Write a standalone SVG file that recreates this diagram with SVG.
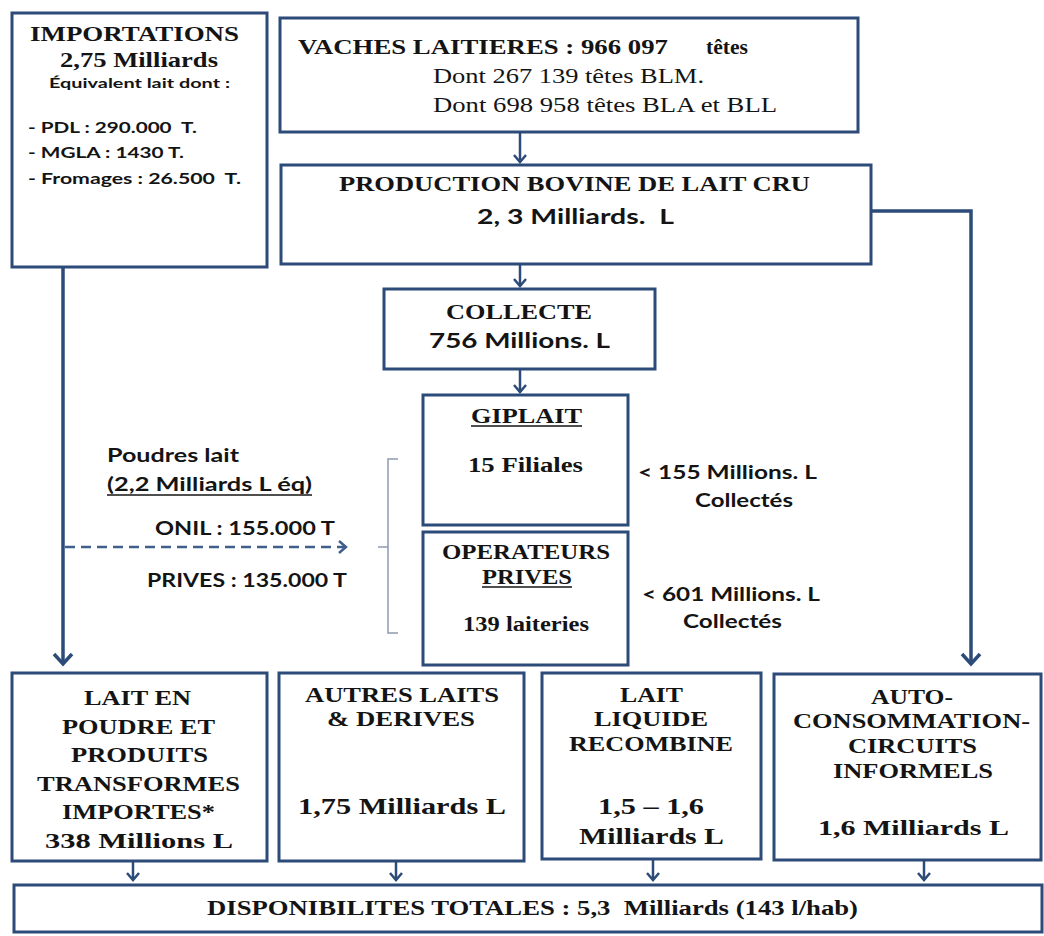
<svg xmlns="http://www.w3.org/2000/svg" width="1044" height="936" viewBox="0 0 1044 936" xml:space="preserve">
<defs>
<style>
.box{fill:#fff;stroke:#2d4b78;stroke-width:3}
.sb{font-family:"Liberation Serif","Times New Roman",serif;font-weight:bold;fill:#141414;white-space:pre}
.sr{font-family:"Liberation Serif","Times New Roman",serif;fill:#141414;white-space:pre}
.ss{font-family:Lato,"Liberation Sans",sans-serif;font-weight:bold;fill:#141414;white-space:pre}
.conn{stroke:#2d4b78;stroke-width:2.5;fill:none}
.big{stroke:#2d4b78;stroke-width:3.5;fill:none}
.dash{stroke:#3f5f8c;stroke-width:2.5;fill:none;stroke-dasharray:10 6}
.brk{stroke:#8d9bb0;stroke-width:1.5;fill:none}
.ul{stroke:#141414;stroke-width:1.5}
</style>
<marker id="a" markerUnits="userSpaceOnUse" markerWidth="12" markerHeight="14" refX="8" refY="7" orient="auto" overflow="visible">
<path d="M1,1 L8,7 L1,13" fill="none" stroke="#2d4b78" stroke-width="2.5"/>
</marker>
<marker id="ab" markerUnits="userSpaceOnUse" markerWidth="16" markerHeight="20" refX="11" refY="10" orient="auto" overflow="visible">
<path d="M1,1 L11,10 L1,19" fill="none" stroke="#2d4b78" stroke-width="3.5"/>
</marker>
<marker id="ad" markerUnits="userSpaceOnUse" markerWidth="12" markerHeight="14" refX="8" refY="7" orient="auto" overflow="visible">
<path d="M1,1 L8,7 L1,13" fill="none" stroke="#3f5f8c" stroke-width="2.5"/>
</marker>
</defs>
<rect width="1044" height="936" fill="#fff"/>

<g id="connectors">
<line class="conn" x1="520" y1="132" x2="520" y2="162" marker-end="url(#a)"/>
<line class="conn" x1="520" y1="264" x2="520" y2="286" marker-end="url(#a)"/>
<line class="conn" x1="520" y1="369" x2="520" y2="392" marker-end="url(#a)"/>
<line class="big" x1="63" y1="267" x2="63" y2="664" marker-end="url(#ab)"/>
<polyline class="big" points="871,211 971,211 971,664" marker-end="url(#ab)"/>
<line class="dash" x1="65" y1="547" x2="346" y2="547" marker-end="url(#ad)"/>
<path class="brk" d="M398,459 L388,459 L388,633 L398,633 M388,547 L378,547"/>
<line class="conn" x1="133" y1="861" x2="133" y2="880" marker-end="url(#a)"/>
<line class="conn" x1="396" y1="861" x2="396" y2="880" marker-end="url(#a)"/>
<line class="conn" x1="653" y1="859" x2="653" y2="880" marker-end="url(#a)"/>
<line class="conn" x1="924" y1="860" x2="924" y2="880" marker-end="url(#a)"/>
</g>

<g id="importations">
<rect class="box" x="12" y="13" width="255" height="254"/>
<text class="sb" x="30" y="41" font-size="21" textLength="209" lengthAdjust="spacingAndGlyphs">IMPORTATIONS</text>
<text class="sb" x="60" y="67" font-size="21" textLength="158" lengthAdjust="spacingAndGlyphs">2,75 Milliards</text>
<text class="ss" x="49" y="88" font-size="13" textLength="181" lengthAdjust="spacingAndGlyphs">Équivalent lait dont :</text>
<text class="ss" x="28" y="133" font-size="15" textLength="169" lengthAdjust="spacingAndGlyphs">- PDL : 290.000  T.</text>
<text class="ss" x="28" y="158" font-size="15" textLength="156" lengthAdjust="spacingAndGlyphs">- MGLA : 1430 T.</text>
<text class="ss" x="28" y="184" font-size="15" textLength="213" lengthAdjust="spacingAndGlyphs">- Fromages : 26.500  T.</text>
</g>

<g id="vaches">
<rect class="box" x="280" y="18" width="578" height="114"/>
<text class="sb" x="298" y="54" font-size="22" textLength="370" lengthAdjust="spacingAndGlyphs">VACHES LAITIERES : 966 097</text>
<text class="sb" x="706" y="54" font-size="22" textLength="42" lengthAdjust="spacingAndGlyphs">têtes</text>
<text class="sr" x="433" y="83" font-size="22" textLength="271" lengthAdjust="spacingAndGlyphs">Dont 267 139 têtes BLM.</text>
<text class="sr" x="433" y="112" font-size="22" textLength="344" lengthAdjust="spacingAndGlyphs">Dont 698 958 têtes BLA et BLL</text>
</g>

<g id="production">
<rect class="box" x="281" y="165" width="590" height="99"/>
<text class="sb" x="339" y="191" font-size="21.5" textLength="471" lengthAdjust="spacingAndGlyphs">PRODUCTION BOVINE DE LAIT CRU</text>
<text class="ss" x="477" y="224" font-size="21" textLength="197" lengthAdjust="spacingAndGlyphs">2, 3 Milliards.  L</text>
</g>

<g id="collecte">
<rect class="box" x="384" y="289" width="271" height="80"/>
<text class="sb" x="446" y="319" font-size="21.5" textLength="146" lengthAdjust="spacingAndGlyphs">COLLECTE</text>
<text class="ss" x="429" y="348" font-size="21" textLength="181" lengthAdjust="spacingAndGlyphs">756 Millions. L</text>
</g>

<g id="giplait">
<rect class="box" x="423" y="395" width="205" height="130"/>
<text class="sb" x="471" y="423" font-size="20.5" textLength="111" lengthAdjust="spacingAndGlyphs">GIPLAIT</text>
<line class="ul" x1="471" y1="426" x2="582" y2="426"/>
<text class="sb" x="468" y="472" font-size="20.5" textLength="115" lengthAdjust="spacingAndGlyphs">15 Filiales</text>
</g>

<g id="operateurs">
<rect class="box" x="423" y="532" width="205" height="133"/>
<text class="sb" x="442" y="559" font-size="20.5" textLength="168" lengthAdjust="spacingAndGlyphs">OPERATEURS</text>
<text class="sb" x="482" y="584" font-size="20.5" textLength="90" lengthAdjust="spacingAndGlyphs">PRIVES</text>
<line class="ul" x1="482" y1="587" x2="572" y2="587"/>
<text class="sb" x="463" y="631" font-size="20.5" textLength="126" lengthAdjust="spacingAndGlyphs">139 laiteries</text>
</g>

<g id="poudres">
<text class="ss" x="107" y="462" font-size="18" textLength="132" lengthAdjust="spacingAndGlyphs">Poudres lait</text>
<text class="ss" x="107" y="491" font-size="18" textLength="205" lengthAdjust="spacingAndGlyphs">(2,2 Milliards L éq)</text>
<line class="ul" x1="107" y1="495" x2="312" y2="495"/>
<text class="ss" x="155" y="535" font-size="18" textLength="180" lengthAdjust="spacingAndGlyphs">ONIL : 155.000 T</text>
<text class="ss" x="147" y="587" font-size="18" textLength="200" lengthAdjust="spacingAndGlyphs">PRIVES : 135.000 T</text>
</g>

<g id="collectes-labels">
<text class="ss" x="638" y="479" font-size="18" textLength="179" lengthAdjust="spacingAndGlyphs">&lt; 155 Millions. L</text>
<text class="ss" x="695" y="507" font-size="18" textLength="98" lengthAdjust="spacingAndGlyphs">Collectés</text>
<text class="ss" x="642" y="601" font-size="18" textLength="178" lengthAdjust="spacingAndGlyphs">&lt; 601 Millions. L</text>
<text class="ss" x="683" y="628" font-size="18" textLength="99" lengthAdjust="spacingAndGlyphs">Collectés</text>
</g>

<g id="lait-poudre">
<rect class="box" x="12" y="673" width="255" height="188"/>
<text class="sb" x="84" y="705" font-size="21.5" textLength="107" lengthAdjust="spacingAndGlyphs">LAIT EN</text>
<text class="sb" x="62" y="734" font-size="21.5" textLength="153" lengthAdjust="spacingAndGlyphs">POUDRE ET</text>
<text class="sb" x="71" y="762" font-size="21.5" textLength="137" lengthAdjust="spacingAndGlyphs">PRODUITS</text>
<text class="sb" x="37" y="791" font-size="21.5" textLength="203" lengthAdjust="spacingAndGlyphs">TRANSFORMES</text>
<text class="sb" x="62" y="819" font-size="21.5" textLength="153" lengthAdjust="spacingAndGlyphs">IMPORTES*</text>
<text class="sb" x="45" y="848" font-size="21.5" textLength="188" lengthAdjust="spacingAndGlyphs">338 Millions L</text>
</g>

<g id="autres-laits">
<rect class="box" x="279" y="673" width="245" height="188"/>
<text class="sb" x="305" y="702" font-size="20.5" textLength="194" lengthAdjust="spacingAndGlyphs">AUTRES LAITS</text>
<text class="sb" x="327" y="726" font-size="20.5" textLength="148" lengthAdjust="spacingAndGlyphs">&amp; DERIVES</text>
<text class="sb" x="298" y="814" font-size="22.5" textLength="208" lengthAdjust="spacingAndGlyphs">1,75 Milliards L</text>
</g>

<g id="lait-liquide">
<rect class="box" x="542" y="673" width="219" height="186"/>
<text class="sb" x="620" y="702" font-size="20.5" textLength="63" lengthAdjust="spacingAndGlyphs">LAIT</text>
<text class="sb" x="594" y="726" font-size="20.5" textLength="114" lengthAdjust="spacingAndGlyphs">LIQUIDE</text>
<text class="sb" x="569" y="751" font-size="20.5" textLength="164" lengthAdjust="spacingAndGlyphs">RECOMBINE</text>
<text class="sb" x="598" y="814" font-size="22.5" textLength="106" lengthAdjust="spacingAndGlyphs">1,5 – 1,6</text>
<text class="sb" x="579" y="844" font-size="22.5" textLength="145" lengthAdjust="spacingAndGlyphs">Milliards L</text>
</g>

<g id="auto-consommation">
<rect class="box" x="774" y="674" width="267" height="186"/>
<text class="sb" x="871" y="704" font-size="20.5" textLength="82" lengthAdjust="spacingAndGlyphs">AUTO-</text>
<text class="sb" x="793" y="728" font-size="20.5" textLength="237" lengthAdjust="spacingAndGlyphs">CONSOMMATION-</text>
<text class="sb" x="848" y="753" font-size="20.5" textLength="129" lengthAdjust="spacingAndGlyphs">CIRCUITS</text>
<text class="sb" x="833" y="778" font-size="20.5" textLength="160" lengthAdjust="spacingAndGlyphs">INFORMELS</text>
<text class="sb" x="818" y="835" font-size="21.5" textLength="191" lengthAdjust="spacingAndGlyphs">1,6 Milliards L</text>
</g>

<g id="disponibilites">
<rect class="box" x="14" y="885" width="1028" height="47"/>
<text class="sb" x="207" y="915" font-size="20.5" textLength="651" lengthAdjust="spacingAndGlyphs">DISPONIBILITES TOTALES : 5,3  Milliards (143 l/hab)</text>
</g>
</svg>
